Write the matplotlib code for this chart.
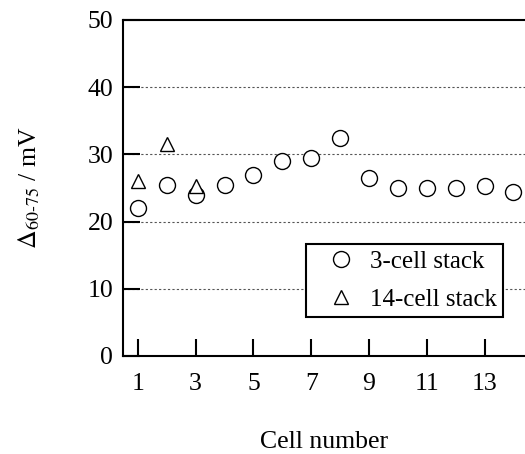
import matplotlib
matplotlib.use("Agg")
import matplotlib.pyplot as plt

# cell-to-cell voltage difference between 60 and 75 (mV)
cells_3 = [1, 2, 3, 4, 5, 6, 7, 8, 9, 10, 11, 12, 13, 14]
delta_3 = [22.0, 25.5, 24.0, 25.5, 27.0, 29.0, 29.5, 32.5, 26.5, 25.0, 25.0, 25.0, 25.3, 24.4]
cells_14 = [1, 2, 3]
delta_14 = [26.0, 31.5, 25.3]

xticks = [1, 3, 5, 7, 9, 11, 13]
yticks = [0, 10, 20, 30, 40, 50]

plt.rcParams['font.family'] = ['Liberation Serif', 'DejaVu Serif']
plt.rcParams['mathtext.fontset'] = 'stix'

fig = plt.figure(figsize=(5.25, 4.54), dpi=100)
ax = fig.add_axes([0.234, 0.216, 0.766, 0.740])

ax.plot(cells_3, delta_3, 'o', ms=11.5, mfc='white', mec='black', mew=1.0,
        ls='none', label='3-cell stack')
ax.plot(cells_14, delta_14, '^', ms=10, mfc='white', mec='black', mew=1.0,
        ls='none', label='14-cell stack')

ax.set_xlim(0.48, 14.4)
ax.set_ylim(0, 50)
ax.set_xticks(xticks)
ax.set_yticks(yticks)
ax.tick_params(direction='in', length=12, width=1.5, labelsize=18.5, pad=7)
ax.tick_params(axis='x', pad=12)

for y in yticks[1:-1]:
    ax.axhline(y, color='#555555', ls=(0, (2, 2)), lw=0.8, zorder=0)

for side in ['left', 'bottom', 'top']:
    ax.spines[side].set_linewidth(1.5)
ax.spines['right'].set_visible(False)

ax.set_xlabel('Cell number', fontsize=18.5, labelpad=26)
ax.set_ylabel(r'$\Delta_{\text{60-75}}$ / mV', fontsize=18.5, labelpad=33)

leg = ax.legend(loc='lower right', bbox_to_anchor=(0.945, 0.116), fontsize=18,
                fancybox=False, framealpha=1, edgecolor='black',
                handletextpad=0.0, borderpad=0.25, labelspacing=0.6,
                handlelength=2.3, borderaxespad=0)
leg.get_frame().set_linewidth(1.5)

fig.savefig('out.png', dpi=100)
